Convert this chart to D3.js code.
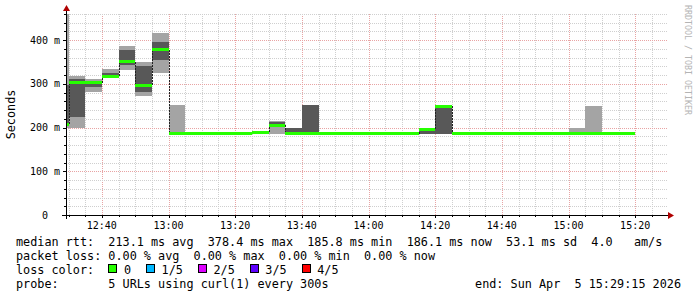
<!DOCTYPE html>
<html>
<head>
<meta charset="utf-8">
<script src="https://cdn.jsdelivr.net/npm/d3@7/dist/d3.min.js"></script>
<style>
  body { margin: 0; background: #fff; }
  text { font-family: "DejaVu Sans Mono", monospace; white-space: pre; }
</style>
</head>
<body>
<svg id="chart" width="697" height="297"></svg>
<script>
// start of each 5 minute step (the first one is only partly shown)
const binStart = ['12:25', '12:30', '12:35', '12:40', '12:45', '12:50', '12:55',
  '13:00', '13:05', '13:10', '13:15', '13:20', '13:25', '13:30', '13:35', '13:40',
  '13:45', '13:50', '13:55', '14:00', '14:05', '14:10', '14:15', '14:20', '14:25',
  '14:30', '14:35', '14:40', '14:45', '14:50', '14:55', '15:00', '15:05', '15:10', '15:15']

// sorted pings of the 5 urls, in ms (ping3 is the median)
const ping1 = [199, 199.5, 282, 314, 331, 273, 325, 185, 185.8, 185.9, 185.8, 185.9, 186, 185, 185, 185,
  185.8, 185.9, 185.8, 185.8, 185.9, 185.8, 185.5, 185, 185.8, 185.9, 185.8, 185.8, 185.9, 185.8, 185.8,
  185.5, 185.5, 185.8, 185.9]
const ping2 = [205, 225, 292, 315, 343, 282, 354, 186, 186, 186.1, 186, 186.1, 188, 204, 185.5, 185.5,
  186, 186.1, 186, 186, 186.1, 186, 186, 185.5, 186, 186.1, 186, 186, 186.1, 186, 186,
  186, 186, 186, 186]
const ping3 = [208, 303.5, 303, 317, 351, 297, 378.4, 186.3, 186.2, 186.3, 186.1, 186.2, 189.5, 205.5, 186, 186,
  186.2, 186.3, 186.1, 186.2, 186.3, 186.1, 196, 248.5, 186.2, 186.3, 186.1, 186.2, 186.3, 186.1, 186.2,
  186.2, 186.2, 186.2, 186.1]
const ping4 = [297, 312, 307, 326, 377, 341, 395, 187, 186.4, 186.5, 186.3, 186.4, 190, 213.5, 198, 251,
  186.4, 186.5, 186.3, 186.4, 186.5, 186.3, 197, 249, 186.4, 186.5, 186.3, 186.4, 186.5, 186.3, 186.4,
  186.5, 186.5, 186.4, 186.3]
const ping5 = [480, 318, 311, 334, 386, 350, 417, 251, 186.8, 187, 186.6, 186.9, 191, 215.5, 199.5, 251.5,
  186.7, 186.9, 186.6, 186.8, 187, 186.6, 197.5, 249.5, 186.7, 186.9, 186.6, 186.8, 186.9, 186.6, 186.7,
  198, 249, 186.7, 186.6]

const xTickLabels = ['12:40', '13:00', '13:20', '13:40', '14:00', '14:20', '14:40', '15:00', '15:20']
const yTickValues = [0, 100, 200, 300, 400]
const yTickLabels = ['0  ', '100 m', '200 m', '300 m', '400 m']

const medianStats = ['213.1 ms avg', '378.4 ms max', '185.8 ms min', '186.1 ms now', '53.1 ms sd']
const lossStats = ['0.00 % avg', '0.00 % max', '0.00 % min', '0.00 % now']
const lossLabels = ['0', '1/5', '2/5', '3/5', '4/5']
const lossColors = ['#26ff00', '#00b8ff', '#dd00ff', '#5e00ff', '#ff0000']

const toMin = s => { const p = s.split(':'); return +p[0] * 60 + +p[1] }

const svg = d3.select('#chart')
const pl = 66, pr = 666, pt = 14, pb = 215 // plot edges

const x = d3.scaleLinear().domain([toMin('12:29') + 0.25, toMin('15:29') + 0.25]).range([pl, pr])
const y = d3.scaleLinear().domain([0, 460]).range([pb, pt])

// grid (minor every 5 min / 20 ms, major every 20 min / 100 ms)
const grid = svg.append('g')
d3.range(toMin('12:30'), toMin('15:29'), 5).forEach(m => {
  const major = m % 20 === 0
  grid.append('line').attr('x1', Math.round(x(m)) + 0.5).attr('x2', Math.round(x(m)) + 0.5)
    .attr('y1', pt).attr('y2', pb)
    .attr('stroke', major ? '#e8a4a4' : '#cfcfcf').attr('stroke-dasharray', '1,1')
})
d3.range(20, 461, 20).forEach(v => {
  const major = v % 100 === 0
  grid.append('line').attr('y1', Math.round(y(v)) + 0.5).attr('y2', Math.round(y(v)) + 0.5)
    .attr('x1', pl).attr('x2', pr + 2)
    .attr('stroke', major ? '#e8a4a4' : '#cfcfcf').attr('stroke-dasharray', '1,1')
})

svg.append('clipPath').attr('id', 'plot')
  .append('rect').attr('x', pl).attr('y', pt).attr('width', pr - pl).attr('height', pb - pt)

const g = svg.append('g').attr('clip-path', 'url(#plot)').attr('shape-rendering', 'crispEdges')
const bins = binStart.map((t, i) => ({
  x0: x(toMin(t)), x1: x(toMin(t) + 5),
  p1: ping1[i], p2: ping2[i], med: ping3[i], p4: ping4[i], p5: ping5[i]
}))

// axes lines first, the smoke of the partial first step covers the y axis
svg.insert('line', 'g + g').attr('x1', pl - 4).attr('x2', pr + 3).attr('y1', pb + 0.5).attr('y2', pb + 0.5)
  .attr('stroke', '#000')
svg.insert('line', 'g + g').attr('x1', pl + 0.5).attr('x2', pl + 0.5).attr('y1', pt - 3).attr('y2', pb + 4)
  .attr('stroke', '#000')

// smoke: outer pair light, inner pair dark
g.selectAll('.smoke1').data(bins).enter().append('rect')
  .attr('x', d => d.x0).attr('width', d => d.x1 - d.x0)
  .attr('y', d => y(d.p5)).attr('height', d => y(d.p1) - y(d.p5))
  .attr('fill', '#a4a4a4')
g.selectAll('.smoke2').data(bins).enter().append('rect')
  .attr('x', d => d.x0).attr('width', d => d.x1 - d.x0)
  .attr('y', d => y(d.p4)).attr('height', d => y(d.p2) - y(d.p4))
  .attr('fill', '#585858')

// step joins of the median
g.selectAll('.join').data(bins.slice(1)).enter().append('line')
  .attr('x1', d => Math.round(d.x0) + 0.5).attr('x2', d => Math.round(d.x0) + 0.5)
  .attr('y1', (d, i) => y(bins[i].med)).attr('y2', d => y(d.med))
  .attr('stroke', '#222').attr('stroke-dasharray', '2,1')

// median band, coloured by loss (all 0 here)
g.selectAll('.median').data(bins).enter().append('rect')
  .attr('x', d => d.x0).attr('width', d => d.x1 - d.x0)
  .attr('y', d => y(d.med) - 1.5).attr('height', 3)
  .attr('fill', lossColors[0])

// arrows and ticks
svg.append('path').attr('d', `M${pr + 2},${pb - 3}L${pr + 8},${pb + 0.5}L${pr + 2},${pb + 4}Z`)
  .attr('fill', '#b00000')
svg.append('path').attr('d', `M${pl - 3},${pt - 3}L${pl + 0.5},${pt - 9}L${pl + 4},${pt - 3}Z`)
  .attr('fill', '#b00000')

d3.range(toMin('12:30'), toMin('15:29'), 5).forEach(m => {
  svg.append('line').attr('x1', Math.round(x(m)) + 0.5).attr('x2', Math.round(x(m)) + 0.5)
    .attr('y1', pb).attr('y2', pb + (m % 20 === 0 ? 3 : 2)).attr('stroke', '#000')
})
d3.range(20, 461, 20).forEach(v => {
  svg.append('line').attr('y1', Math.round(y(v)) + 0.5).attr('y2', Math.round(y(v)) + 0.5)
    .attr('x1', pl - (v % 100 === 0 ? 3 : 2)).attr('x2', pl).attr('stroke', '#000')
})

svg.selectAll('.xlab').data(xTickLabels).enter().append('text')
  .attr('x', d => x(toMin(d))).attr('y', 229)
  .attr('text-anchor', 'middle').attr('font-size', 10).text(d => d)
svg.selectAll('.ylab').data(yTickValues).enter().append('text')
  .attr('x', 60).attr('y', d => y(d) + 3.5)
  .attr('text-anchor', 'end').attr('font-size', 10).text((d, i) => yTickLabels[i])

svg.append('text').attr('transform', `translate(15,${(pt + pb) / 2}) rotate(-90)`)
  .attr('text-anchor', 'middle').attr('font-size', 11.8).text('Seconds')

svg.append('text').attr('transform', 'translate(685,5) rotate(90)')
  .attr('font-size', 8.3).attr('fill', '#b4b4b4').text('RRDTOOL / TOBI OETIKER')

// legend
const fs = 11.8, cw = fs * 0.602
svg.append('text').attr('x', 16).attr('y', 245.5).attr('font-size', fs)
  .text('median rtt:  ' + medianStats.join('  ') + '  4.0   am/s')
svg.append('text').attr('x', 16).attr('y', 259.5).attr('font-size', fs)
  .text('packet loss: ' + lossStats.join('  '))
svg.append('text').attr('x', 16).attr('y', 273.5).attr('font-size', fs).text('loss color:')
let lx = 16 + 13 * cw
lossLabels.forEach((l, i) => {
  svg.append('rect').attr('x', Math.round(lx) + 0.5).attr('y', 264.5).attr('width', 8).attr('height', 8)
    .attr('fill', lossColors[i]).attr('stroke', '#000')
  svg.append('text').attr('x', lx + 2.2 * cw).attr('y', 273.5).attr('font-size', fs).text(l)
  lx += (l.length + 4.3) * cw
})
svg.append('text').attr('x', 16).attr('y', 288).attr('font-size', fs)
  .text('probe:       5 URLs using curl(1) every 300s')
svg.append('text').attr('x', 681).attr('y', 288).attr('font-size', fs).attr('text-anchor', 'end')
  .text('end: Sun Apr  5 15:29:15 2026')
</script>
</body>
</html>
